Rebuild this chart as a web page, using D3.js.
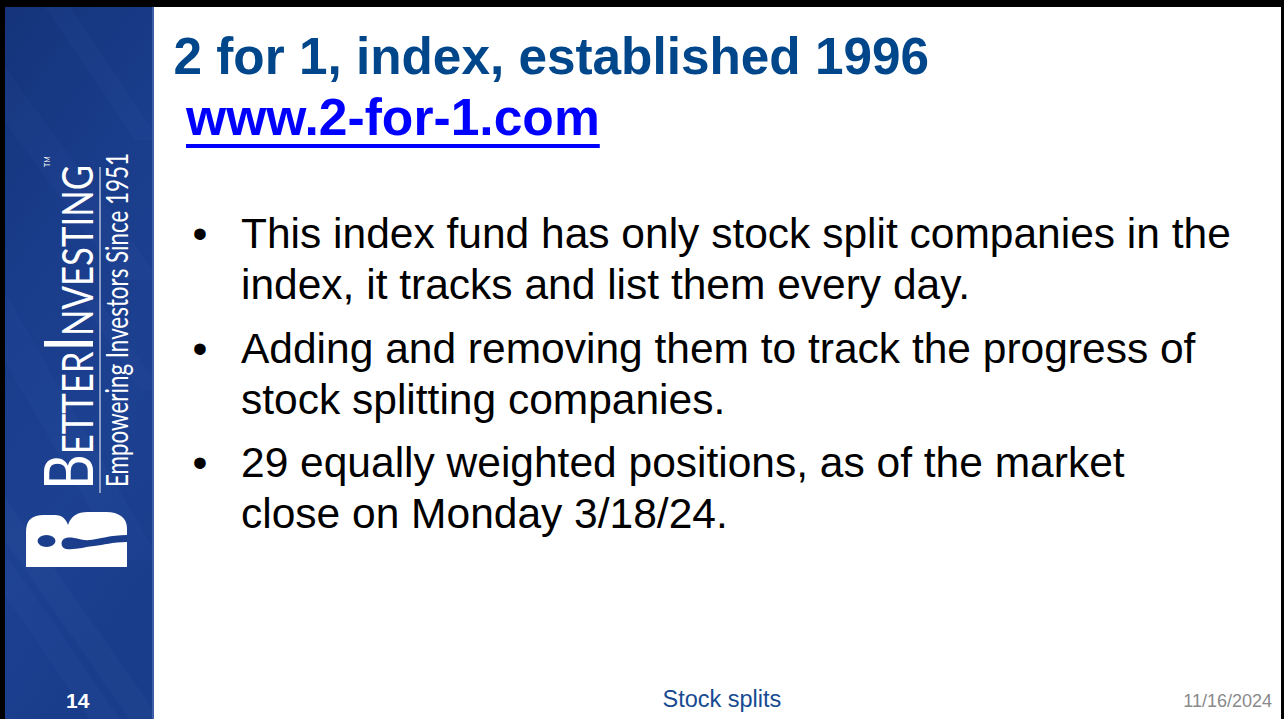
<!DOCTYPE html>
<html>
<head>
<meta charset="utf-8">
<script src="https://cdn.jsdelivr.net/npm/d3@7"></script>
<style>
  html, body { margin: 0; padding: 0; background: #ffffff; }
  svg { display: block; }
</style>
</head>
<body>
<svg id="slide" width="1287" height="719"></svg>
<script>
// ---- content ----
const titleText = "2 for 1, index, established 1996";
const linkText = "www.2-for-1.com";
const bulletItems = [
  ["This index fund has only stock split companies in the", "index, it tracks and list them every day."],
  ["Adding and removing them to track the progress of", "stock splitting companies."],
  ["29 equally weighted positions, as of the market", "close on Monday 3/18/24."]
];
const slideNumber = "14";
const footerText = "Stock splits";
const dateText = "11/16/2024";
const logoBig = ["B", "ETTER", "I", "NVESTING"];
const logoTagline = "Empowering Investors Since 1951";

// ---- drawing ----
const svg = d3.select("#slide");
const W = 1287, H = 719;
const defs = svg.append("defs");

const grad = defs.append("linearGradient").attr("id", "sideGrad")
  .attr("x1", 0).attr("y1", 0).attr("x2", 0.3).attr("y2", 1);
grad.append("stop").attr("offset", "0%").attr("stop-color", "#14337a");
grad.append("stop").attr("offset", "40%").attr("stop-color", "#1a3d8b");
grad.append("stop").attr("offset", "75%").attr("stop-color", "#1c4190");
grad.append("stop").attr("offset", "100%").attr("stop-color", "#1a3d8b");

// white page
svg.append("rect").attr("x", 0).attr("y", 0).attr("width", W).attr("height", H).attr("fill", "#ffffff");

// sidebar
const side = svg.append("g");
side.append("rect").attr("x", 5).attr("y", 0).attr("width", 149).attr("height", H).attr("fill", "url(#sideGrad)");
const clip = defs.append("clipPath").attr("id", "sideClip");
clip.append("rect").attr("x", 5).attr("y", 0).attr("width", 149).attr("height", H);
const streaks = side.append("g").attr("clip-path", "url(#sideClip)");
const streakDefs = [
  [[-40, 60], [0, 60], [160, 280], [120, 280], 0.035],
  [[40, 0], [65, 0], [160, 140], [135, 140], 0.04],
  [[-60, 250], [-20, 250], [160, 560], [120, 560], 0.04],
  [[-80, 420], [-50, 420], [160, 719], [130, 719], 0.05],
  [[-20, 560], [10, 560], [120, 719], [90, 719], 0.045],
  [[80, 300], [100, 300], [160, 390], [140, 390], 0.035]
];
streakDefs.forEach(s => {
  streaks.append("polygon")
    .attr("points", s.slice(0, 4).map(p => p.join(",")).join(" "))
    .attr("fill", "#6f95e0").attr("opacity", s[4]);
});
side.append("rect").attr("x", 152).attr("y", 0).attr("width", 2).attr("height", H).attr("fill", "#3c5fa8");

// black frame
svg.append("rect").attr("x", 0).attr("y", 0).attr("width", 5).attr("height", H).attr("fill", "#000");
svg.append("rect").attr("x", 0).attr("y", 0).attr("width", 1284).attr("height", 7).attr("fill", "#000");
svg.append("rect").attr("x", 1281).attr("y", 0).attr("width", 3).attr("height", H).attr("fill", "#000");

// logo word mark (rotated)
const logoFont = "Lato, 'Open Sans', sans-serif";
const wm = svg.append("g").attr("transform", "translate(93,490) rotate(-90)");
const wmText = wm.append("text").attr("x", 0).attr("y", 0)
  .attr("font-family", logoFont).attr("fill", "#ffffff")
  .attr("textLength", 325).attr("lengthAdjust", "spacingAndGlyphs");
logoBig.forEach((t, i) => {
  wmText.append("tspan").attr("font-size", i % 2 === 0 ? 67 : 42).text(t);
});
svg.append("line").attr("x1", 100).attr("x2", 100).attr("y1", 167).attr("y2", 493)
  .attr("stroke", "#ffffff").attr("stroke-opacity", 0.75).attr("stroke-width", 1.3);
svg.append("g").attr("transform", "translate(128,487) rotate(-90)")
  .append("text").attr("font-family", logoFont).attr("font-size", 30).attr("fill", "#ffffff")
  .attr("textLength", 334).attr("lengthAdjust", "spacingAndGlyphs").text(logoTagline);
svg.append("g").attr("transform", "translate(50,167) rotate(-90)")
  .append("text").attr("font-family", logoFont).attr("font-size", 7).attr("fill", "#ffffff").text("TM");

// logo "B" mark
svg.append("path")
  .attr("d", "M26,567 L26,532 C26,520 32,515 44,515 L55,515 C62,515 66,519 68,525 C71,516 77,512 88,512 L106,512 C119,512 127,518 127,528 L127,567 Z")
  .attr("fill", "#ffffff");
svg.append("ellipse").attr("cx", 46.5).attr("cy", 541).attr("rx", 9).attr("ry", 6).attr("fill", "#1b3e8c");
svg.append("path")
  .attr("d", "M66,538 C74,536 80,541 90,540 C100,539 110,535 127,535 L127,542 C112,542 104,545 94,546 C84,547 76,550 66,549 C60,548 60,539 66,538 Z")
  .attr("fill", "#1b3e8c");

// title
const arial = "'Liberation Sans', Arial, Helvetica, sans-serif";
svg.append("text").attr("x", 173.5).attr("y", 74)
  .attr("font-family", arial).attr("font-weight", "bold").attr("font-size", 51.3)
  .attr("fill", "#00468b").text(titleText);
const link = svg.append("text").attr("x", 186).attr("y", 135)
  .attr("font-family", arial).attr("font-weight", "bold").attr("font-size", 51.6)
  .attr("fill", "#0000ff").text(linkText);
const linkW = link.node().getComputedTextLength();
svg.append("rect").attr("x", 186).attr("y", 144).attr("width", linkW).attr("height", 4).attr("fill", "#0000ff");

// bullets
const lineGap = 51, paraGap = 63.5;
let baseY = 248;
const bulletG = svg.append("g").attr("font-family", arial).attr("font-size", 42.5).attr("fill", "#000000");
bulletItems.forEach((lines, i) => {
  bulletG.append("text").attr("x", 192.6).attr("y", baseY).text("\u2022");
  lines.forEach((ln, j) => {
    bulletG.append("text").attr("x", 241).attr("y", baseY + j * lineGap).text(ln);
  });
  baseY += (lines.length - 1) * lineGap + paraGap;
});

// footer
svg.append("text").attr("x", 66).attr("y", 708)
  .attr("font-family", arial).attr("font-weight", "bold").attr("font-size", 21)
  .attr("fill", "#ffffff").text(slideNumber);
svg.append("text").attr("x", 662.5).attr("y", 706.5)
  .attr("font-family", arial).attr("font-size", 23.5)
  .attr("fill", "#174a91").text(footerText);
svg.append("text").attr("x", 1272).attr("y", 707).attr("text-anchor", "end")
  .attr("font-family", arial).attr("font-size", 18)
  .attr("fill", "#8a8a8a").text(dateText);
</script>
</body>
</html>
